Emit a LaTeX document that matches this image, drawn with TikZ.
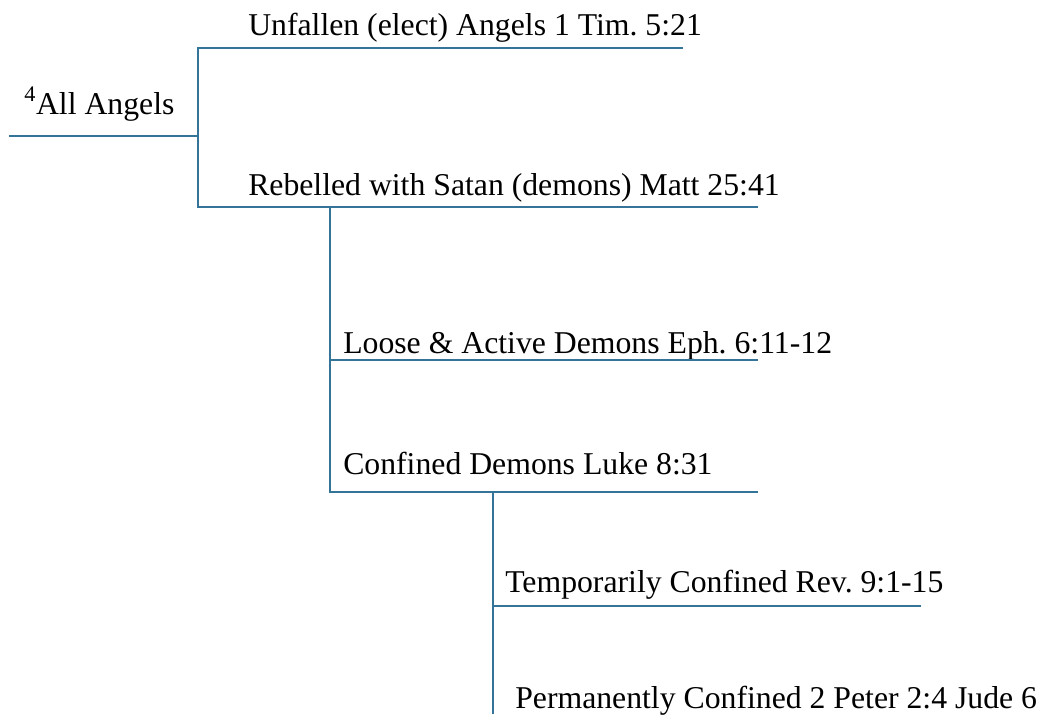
\documentclass[tikz,border=0pt]{standalone}
\usepackage{fontspec}
\setmainfont{Liberation Serif}
\frenchspacing
\definecolor{linkblue}{RGB}{52,116,152}

\begin{document}
\begin{tikzpicture}[x=0.75pt, y=-0.75pt,
    lbl/.style={anchor=base west, inner sep=0pt, font=\fontsize{23.8}{28}\selectfont},
    branch/.style={draw=linkblue, line width=1pt}]

     \useasboundingbox (0, 0) rectangle (1042, 714);

     \node (all) at (24, 114) [lbl] {\textsuperscript{4}All Angels};
     \node (unf) at (248, 35) [lbl] {Unfallen (elect) Angels 1 Tim. 5:21};
     \node (reb) at (248, 195) [lbl] {Rebelled with Satan (demons) Matt 25:41};
     \node (loose) at (343, 353) [lbl] {Loose \& Active Demons Eph. 6:11-12};
     \node (conf) at (343, 474) [lbl] {Confined Demons Luke 8:31};
     \node (temp) at (505, 592) [lbl] {Temporarily Confined Rev. 9:1-15};
     \node (perm) at (515, 708) [lbl] {Permanently Confined 2 Peter 2:4 Jude 6};

     \coordinate (a0) at (9, 136);
     \coordinate (a1) at (198, 136);
     \coordinate (b0) at (198, 48);
     \coordinate (b1) at (683, 48);
     \coordinate (c0) at (198, 207);
     \coordinate (c1) at (758, 207);
     \coordinate (c2) at (330, 207);
     \coordinate (d0) at (330, 360);
     \coordinate (d1) at (758, 360);
     \coordinate (e0) at (330, 492);
     \coordinate (e1) at (758, 492);
     \coordinate (e2) at (493, 492);
     \coordinate (f0) at (493, 606);
     \coordinate (f1) at (921, 606);
     \coordinate (g0) at (493, 714);

     \draw [branch] (a0) -- (a1);
     \draw [branch] (b1) -- (b0) -- (c0) -- (c1);
     \draw [branch] (c2) -- (e0) -- (e1);
     \draw [branch] (d0) -- (d1);
     \draw [branch] (e2) -- (g0);
     \draw [branch] (f0) -- (f1);

 \end{tikzpicture}
\end{document}
